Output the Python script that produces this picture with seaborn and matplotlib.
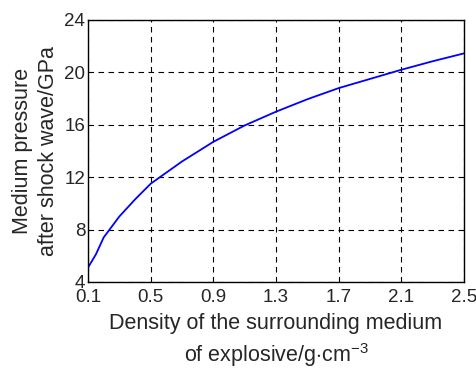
import numpy as np
import pandas as pd
import matplotlib
matplotlib.use("Agg")
import matplotlib.pyplot as plt
import seaborn as sns

# ==================== Data ====================
density = [0.1, 0.15, 0.2, 0.3, 0.4, 0.5, 0.7, 0.9, 1.1, 1.3, 1.5, 1.7, 1.9, 2.1, 2.3, 2.5]
pressure = [5.1, 6.1, 7.4, 9.0, 10.3, 11.5, 13.2, 14.7, 15.95, 17.0, 17.95, 18.8, 19.5, 20.2, 20.85, 21.45]
x_ticks = [0.1, 0.5, 0.9, 1.3, 1.7, 2.1, 2.5]
y_ticks = [4, 8, 12, 16, 20, 24]

df = pd.DataFrame({"density": density, "pressure": pressure})

# ==================== Plot ====================
sns.set_style("white")
plt.rcParams['font.family'] = ['Liberation Sans', 'DejaVu Sans']
plt.rcParams['mathtext.fontset'] = 'custom'
plt.rcParams['mathtext.rm'] = 'Liberation Sans'

fig = plt.figure(figsize=(4.77, 3.68), dpi=100)
ax = fig.add_axes([0.1845, 0.2337, 0.9727 - 0.1845, 0.9457 - 0.2337])

sns.lineplot(data=df, x="density", y="pressure", ax=ax, color="#0000ff", linewidth=1.3)

ax.set_xlim(0.1, 2.5)
ax.set_ylim(4, 24)
ax.set_xticks(x_ticks)
ax.set_yticks(y_ticks)
ax.set_xticklabels([f"{v:.1f}" for v in x_ticks])
ax.set_yticklabels([str(v) for v in y_ticks])
ax.tick_params(direction="in", length=4, width=0.8, labelsize=13.5, color="black")
ax.tick_params(axis="x", pad=5)
ax.tick_params(axis="y", pad=2)
ax.grid(True, color="black", linestyle=(0, (5, 4)), linewidth=0.8)

for s in ax.spines.values():
    s.set_color("black")
    s.set_linewidth(1.0)

ax.set_xlabel("Density of the surrounding medium\nof explosive/g$\\cdot$cm$^{-3}$",
              fontsize=15.5, labelpad=5, linespacing=1.35)
ax.set_ylabel("Medium pressure\nafter shock wave/GPa", fontsize=15.5, labelpad=4, linespacing=1.3)

fig.savefig("out.png", dpi=100)
